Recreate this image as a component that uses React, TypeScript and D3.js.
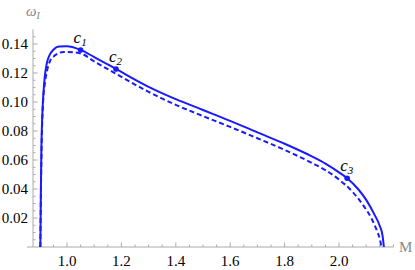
import React from "react";
import * as d3 from "d3";

// solid curve (M, omega_I)
const solidM = [0.902, 0.904, 0.906, 0.909, 0.913, 0.918, 0.925, 0.935, 0.95, 0.97, 1.0, 1.05, 1.1, 1.18, 1.3, 1.4, 1.5, 1.6, 1.7, 1.8, 1.9, 1.95, 2.0, 2.03, 2.07, 2.1, 2.13, 2.15, 2.16, 2.165];
const solidW = [0, 0.04, 0.07, 0.09, 0.105, 0.117, 0.126, 0.132, 0.136, 0.1382, 0.1385, 0.1359, 0.131, 0.1228, 0.1105, 0.102, 0.0945, 0.087, 0.079, 0.0712, 0.0625, 0.0575, 0.0515, 0.0474, 0.04, 0.0325, 0.0225, 0.0145, 0.008, 0];

// dashed curve
const dashM = [0.902, 0.905, 0.908, 0.912, 0.918, 0.926, 0.937, 0.955, 0.98, 1.0, 1.05, 1.1, 1.18, 1.3, 1.4, 1.5, 1.6, 1.7, 1.8, 1.9, 1.95, 2.0, 2.05, 2.09, 2.12, 2.14, 2.15, 2.156];
const dashW = [0, 0.05, 0.08, 0.1, 0.112, 0.121, 0.128, 0.132, 0.1343, 0.1345, 0.1335, 0.128, 0.1195, 0.107, 0.098, 0.0903, 0.0828, 0.075, 0.067, 0.058, 0.053, 0.0465, 0.038, 0.0285, 0.0195, 0.011, 0.0055, 0];

// labelled points on the solid curve
const markLabels = ["1", "2", "3"];
const markM = [1.05, 1.18, 2.03];
const markW = [0.1359, 0.1228, 0.0474];

const xTicks = [1.0, 1.2, 1.4, 1.6, 1.8, 2.0];
const yTicks = [0.02, 0.04, 0.06, 0.08, 0.1, 0.12, 0.14];

const blue = "#1a1aff";
const axisGray = "#aaaaaa";
const font = "'Liberation Serif', Tinos, 'Nimbus Roman', 'Times New Roman', Times, 'DejaVu Serif', serif";

export default function App() {
  const width = 415;
  const height = 270;

  const x = d3.scaleLinear().domain([0.875, 2.2]).range([33, 393.4]);
  const y = d3.scaleLinear().domain([0, 0.15]).range([247, 29.5]);

  const line = d3
    .line<[number, number]>()
    .x((d) => x(d[0]))
    .y((d) => y(d[1]))
    .curve(d3.curveMonotoneX);

  const solid = solidM.map((m, i) => [m, solidW[i]] as [number, number]);
  const dashed = dashM.map((m, i) => [m, dashW[i]] as [number, number]);

  const xMinor = d3.range(0.9, 2.2, 0.05).map((v) => Math.round(v * 100) / 100);
  const yMinor = d3.range(0.005, 0.15, 0.005).map((v) => Math.round(v * 1000) / 1000);

  const txt = { fontFamily: font };

  return (
    <svg
      width={width}
      height={height}
      style={{ position: "absolute", left: 0, top: 0 }}
    >
      {/* axes */}
      <line x1={27} x2={x(2.2)} y1={y(0)} y2={y(0)} stroke={axisGray} />
      <line x1={x(0.875)} x2={x(0.875)} y1={y(0)} y2={y(0.15)} stroke={axisGray} />
      {xMinor.map((v) => (
        <line
          key={"xm" + v}
          x1={x(v)}
          x2={x(v)}
          y1={y(0)}
          y2={y(0) - (xTicks.some((t) => Math.abs(t - v) < 1e-6) ? 4.5 : 2.5)}
          stroke={axisGray}
        />
      ))}
      {yMinor.map((v) => (
        <line
          key={"ym" + v}
          x1={x(0.875)}
          x2={x(0.875) + (yTicks.some((t) => Math.abs(t - v) < 1e-6) ? 4.5 : 2.5)}
          y1={y(v)}
          y2={y(v)}
          stroke={axisGray}
        />
      ))}
      {xTicks.map((t) => (
        <text key={"xt" + t} x={x(t)} y={266} textAnchor="middle" fontSize={15} style={txt}>
          {t.toFixed(1)}
        </text>
      ))}
      {yTicks.map((t) => (
        <text key={"yt" + t} x={28} y={y(t) + 5} textAnchor="end" fontSize={15} style={txt}>
          {t.toFixed(2)}
        </text>
      ))}
      <text x={399} y={252} fontSize={15} fill="#888" style={txt}>
        M
      </text>
      <text x={26} y={16} fontSize={15} fill="#888" fontStyle="italic" style={txt}>
        ω<tspan fontSize={10} dy={3}>I</tspan>
      </text>

      {/* curves */}
      <path d={line(dashed) || ""} fill="none" stroke={blue} strokeWidth={2} strokeDasharray="5,3" />
      <path d={line(solid) || ""} fill="none" stroke={blue} strokeWidth={2} />

      {markM.map((m, i) => (
        <g key={"mk" + i}>
          <circle cx={x(m)} cy={y(markW[i])} r={2.8} fill={blue} />
          <text x={x(m) - 7} y={y(markW[i]) - 7} fontSize={17} fontStyle="italic" style={txt}>
            c<tspan fontSize={11} dy={3}>{markLabels[i]}</tspan>
          </text>
        </g>
      ))}
    </svg>
  );
}
